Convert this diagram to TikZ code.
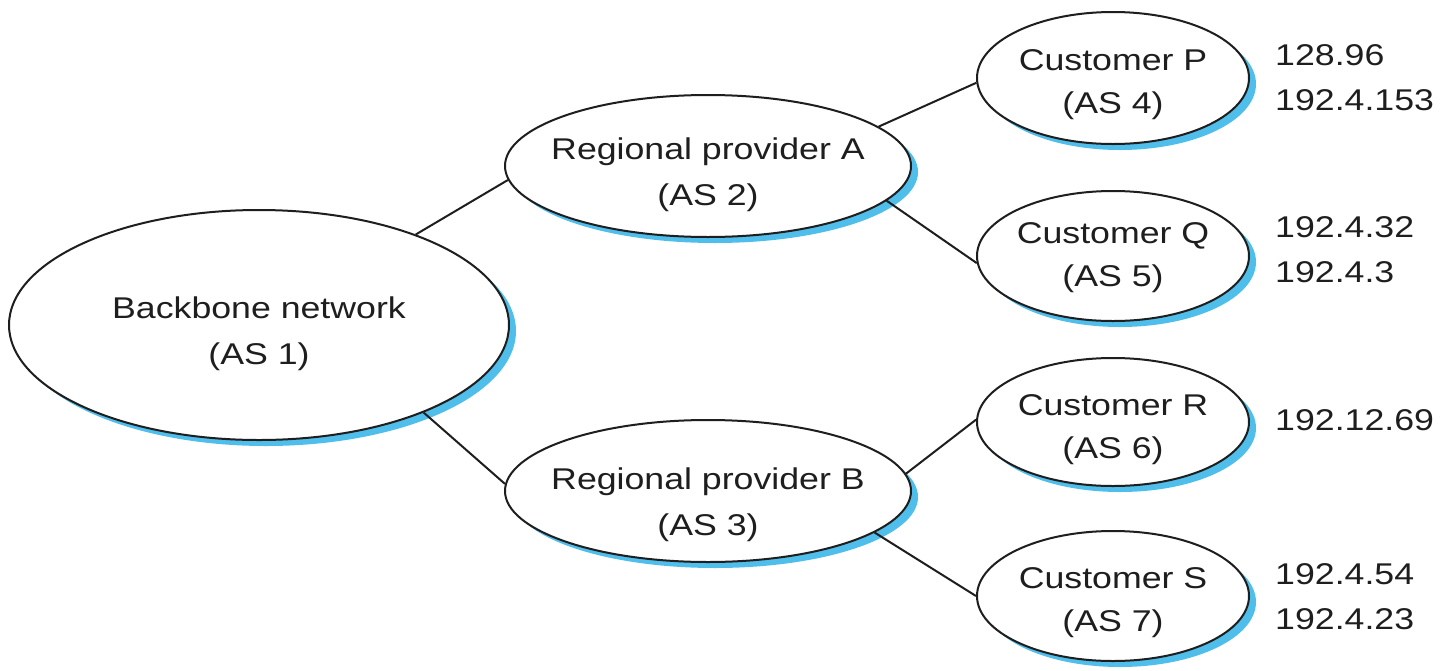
\documentclass[tikz,border=0pt]{standalone}
\usepackage{fontspec}
\setmainfont{Liberation Sans}
\usetikzlibrary{shadows,shapes.geometric}
\definecolor{skyb}{RGB}{80,190,235}
\definecolor{ink}{RGB}{30,30,30}
\def\tsh{0pt}
\newcommand\hs[1]{\makebox[0pt]{\smash{\raisebox{-\tsh}{\scalebox{1.19}[1]{#1}}}}}
\newcommand\hl[1]{\scalebox{1.19}[1]{#1}}
\tikzset{
  tshift/.code={\def\tsh{#1}},
  asnode/.style={ellipse, draw=ink, line width=2pt, fill=white, inner sep=0pt,
    align=center, text=ink, font=\fontsize{30}{46}\selectfont,
    drop shadow={shadow xshift=7pt, shadow yshift=-6pt, fill=skyb, opacity=1}},
  custnode/.style={asnode, minimum width=272pt, font=\fontsize{30}{43}\selectfont},
  addr/.style={anchor=west, align=left, text=ink, inner sep=0pt, font=\fontsize{30}{45}\selectfont},
  link/.style={draw=ink, line width=2pt}
}
\begin{document}
\begin{tikzpicture}[x=1pt,y=-1pt]
\useasboundingbox (0,0) rectangle (1441,670);
\node[asnode, minimum width=500pt, minimum height=230pt, tshift=16pt] (bb) at (259,325) {\hs{Backbone network}\\\hs{(AS 1)}};
\node[asnode, minimum width=406pt, minimum height=142pt, tshift=16pt] (ra) at (708,166) {\hs{Regional provider A}\\\hs{(AS 2)}};
\node[asnode, minimum width=406pt, minimum height=142pt, tshift=21pt] (rb) at (708,491) {\hs{Regional provider B}\\\hs{(AS 3)}};
\node[custnode, minimum height=132pt, tshift=14pt] (cp) at (1113,78) {\hs{Customer P}\\\hs{(AS 4)}};
\node[custnode, minimum height=130pt, tshift=9pt] (cq) at (1113,256) {\hs{Customer Q}\\\hs{(AS 5)}};
\node[custnode, minimum height=128pt, tshift=15pt] (cr) at (1113,422) {\hs{Customer R}\\\hs{(AS 6)}};
\node[custnode, minimum height=130pt, tshift=14pt] (cs) at (1113,596) {\hs{Customer S}\\\hs{(AS 7)}};
\node[addr] (ap) at (1275,78) {\hl{128.96}\\\hl{192.4.153}};
\node[addr] (aq) at (1275,250) {\hl{192.4.32}\\\hl{192.4.3}};
\node[addr] (ar) at (1275,420) {\hl{192.12.69}};
\node[addr] (as) at (1275,597) {\hl{192.4.54}\\\hl{192.4.23}};
\draw[link] (bb.30) -- (ra.184);
\draw[link] (bb.332) -- (rb.178);
\draw[link] (ra.13) -- (cp.182);
\draw[link] (ra.349) -- (cq.183);
\draw[link] (rb.5) -- (cr.179);
\draw[link] (rb.346) -- (cs.180);
\end{tikzpicture}
\end{document}
